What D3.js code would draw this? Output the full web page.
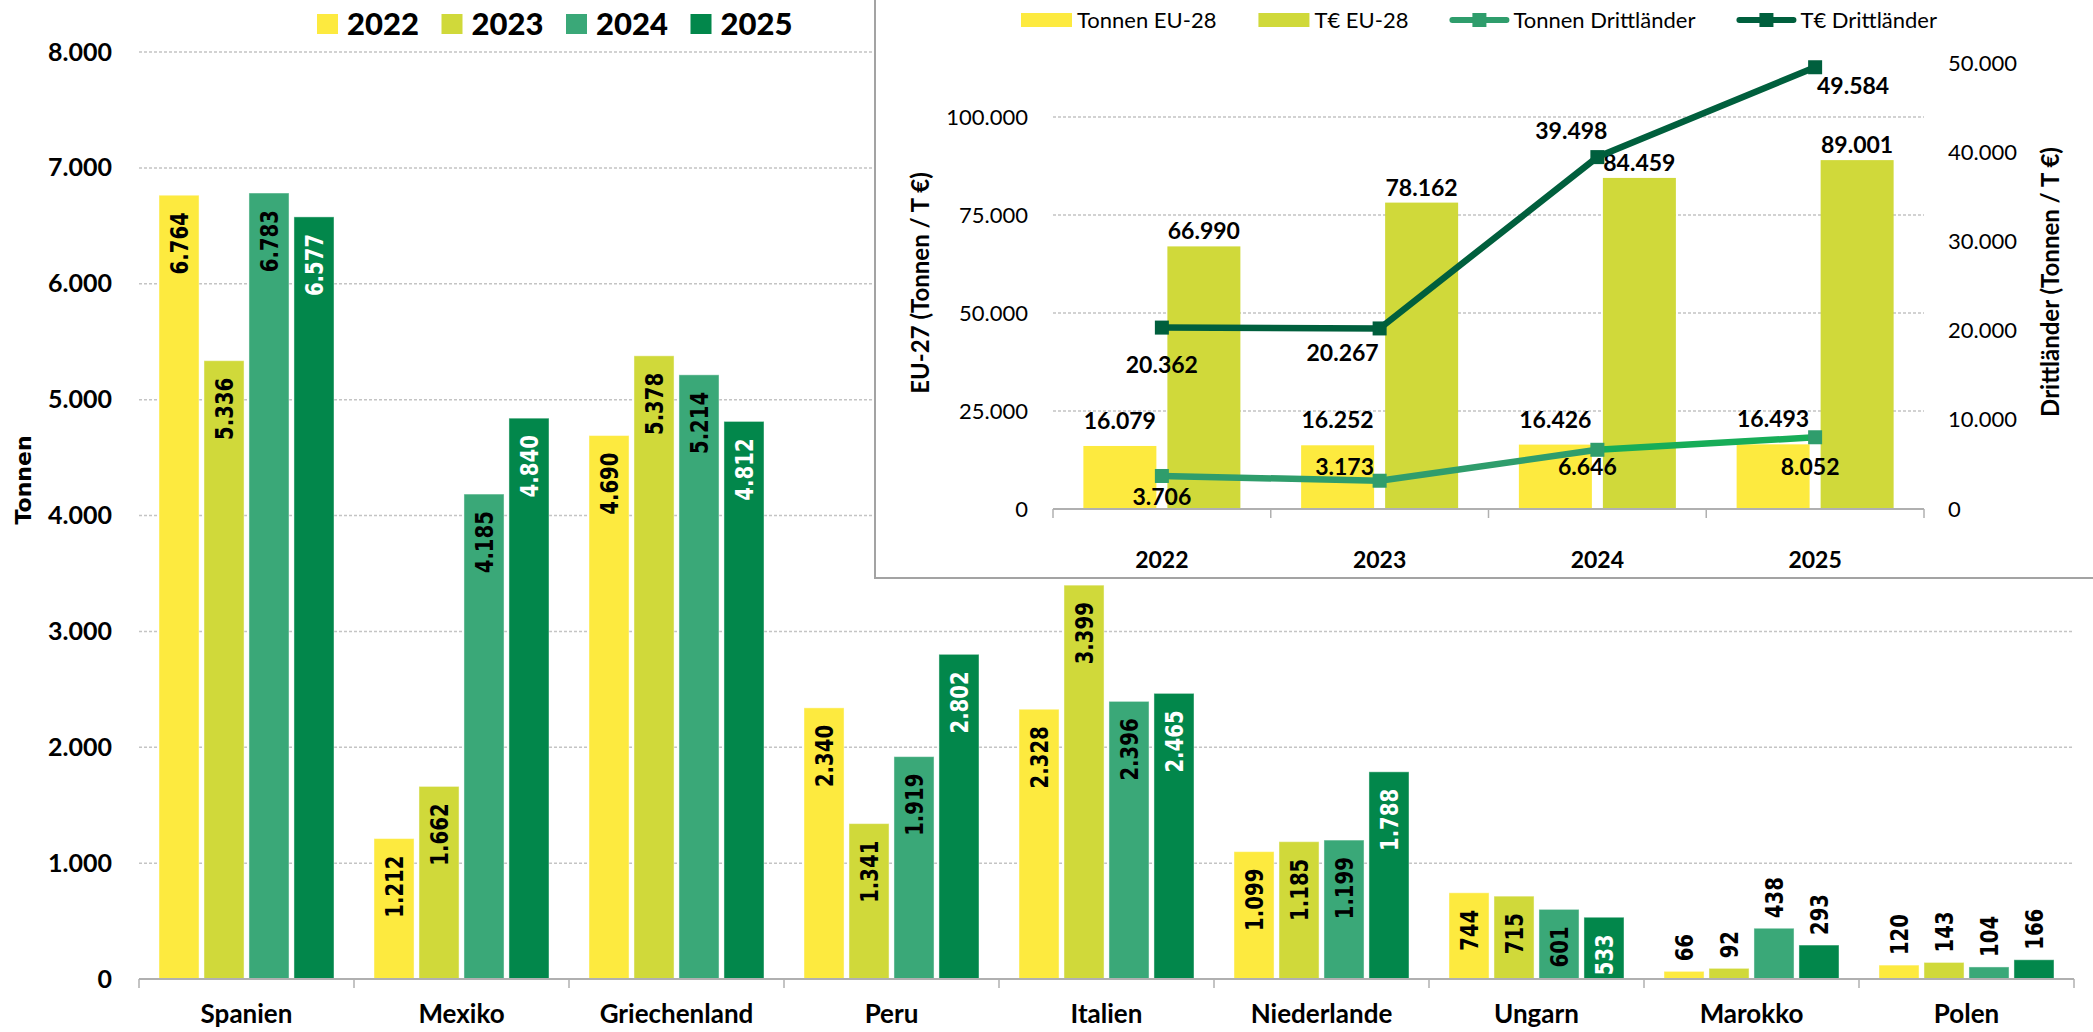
<!DOCTYPE html>
<html>
<head>
<meta charset="utf-8">
<script src="https://cdn.jsdelivr.net/npm/d3@7"></script>
<style>
body { margin: 0; background: #fff; }
text { font-family: Lato, "Open Sans", sans-serif; }
</style>
</head>
<body>
<svg id="chart" width="2093" height="1032"></svg>
<script>
// main chart data (Tonnen per country and year)
var countries = ["Spanien", "Mexiko", "Griechenland", "Peru", "Italien", "Niederlande", "Ungarn", "Marokko", "Polen"];
var years = ["2022", "2023", "2024", "2025"];
var values2022 = [6764, 1212, 4690, 2340, 2328, 1099, 744, 66, 120];
var values2023 = [5336, 1662, 5378, 1341, 3399, 1185, 715, 92, 143];
var values2024 = [6783, 4185, 5214, 1919, 2396, 1199, 601, 438, 104];
var values2025 = [6577, 4840, 4812, 2802, 2465, 1788, 533, 293, 166];
var mainTicks = [0, 1000, 2000, 3000, 4000, 5000, 6000, 7000, 8000];

// inset data
var insetYears = ["2022", "2023", "2024", "2025"];
var tonnenEU = [16079, 16252, 16426, 16493];
var euroEU = [66990, 78162, 84459, 89001];
var tonnenDritt = [3706, 3173, 6646, 8052];
var euroDritt = [20362, 20267, 39498, 49584];
var leftTicks = [0, 25000, 50000, 75000, 100000];
var rightTicks = [0, 10000, 20000, 30000, 40000, 50000];

var yearColors = ["#fdea3f", "#d0d93a", "#3aa878", "#02874b"];
var labelColors = ["#000", "#000", "#000", "#fff"];

var de = d3.formatLocale({decimal: ",", thousands: ".", grouping: [3], currency: ["", "€"]});
var fmt = de.format(",");

var svg = d3.select("#chart");

/* ---------------- main grouped bar chart ---------------- */
var plotLeft = 139, plotRight = 2074, plotBottom = 979, plotTop = 52;

var x0 = d3.scaleBand().domain(countries).range([plotLeft, plotRight]);
var x1 = d3.scaleBand().domain(years).range([20, x0.bandwidth() - 20]).paddingInner(0.11);
var y = d3.scaleLinear().domain([0, 8000]).range([plotBottom, plotTop]);

// gridlines
svg.append("g").selectAll("line")
    .data(mainTicks.filter(function (d) { return d > 0; }))
    .enter().append("line")
    .attr("x1", plotLeft).attr("x2", plotRight)
    .attr("y1", function (d) { return y(d); })
    .attr("y2", function (d) { return y(d); })
    .attr("stroke", "#c4c4c4")
    .attr("stroke-width", 1.5)
    .attr("stroke-dasharray", "3,2");

// y axis labels
var yAxis = svg.append("g")
    .attr("transform", "translate(" + plotLeft + ",0)")
    .call(d3.axisLeft(y).tickValues(mainTicks).tickFormat(fmt).tickSize(0).tickPadding(27));
yAxis.select(".domain").remove();
yAxis.selectAll("text")
    .style("font-family", "Lato, sans-serif")
    .style("font-weight", "bold")
    .style("font-size", "25px")
    .attr("fill", "#000");

svg.append("text")
    .attr("transform", "translate(31,480) rotate(-90)")
    .attr("text-anchor", "middle")
    .style("font-family", "'DejaVu Sans', sans-serif")
    .style("font-weight", "bold")
    .style("font-size", "22px")
    .text("Tonnen");

// bars
var series = [values2022, values2023, values2024, values2025];
var barData = [];
countries.forEach(function (c, i) {
    years.forEach(function (yr, j) {
        barData.push({country: c, year: yr, idx: j, value: series[j][i]});
    });
});

svg.append("g").selectAll("rect")
    .data(barData)
    .enter().append("rect")
    .attr("x", function (d) { return x0(d.country) + x1(d.year); })
    .attr("y", function (d) { return y(d.value); })
    .attr("width", x1.bandwidth())
    .attr("height", function (d) { return plotBottom - y(d.value); })
    .attr("fill", function (d) { return yearColors[d.idx]; })
    .attr("stroke", "#fff")
    .attr("stroke-opacity", 0.45)
    .attr("stroke-width", 1);

// value labels, rotated; inside the bar if it fits, else above
var labels = svg.append("g").selectAll("text")
    .data(barData)
    .enter().append("text")
    .style("font-family", "'DejaVu Sans', sans-serif")
    .style("font-weight", "bold")
    .style("font-size", "24px")
    .attr("dy", "0.36em")
    .text(function (d) { return fmt(d.value); });

labels.each(function (d) {
    var t = d3.select(this);
    var len = this.getComputedTextLength() * 0.82;
    var cx = x0(d.country) + x1(d.year) + x1.bandwidth() / 2;
    var top = y(d.value);
    var inside = (plotBottom - top) >= len + 18;
    if (inside) {
        t.attr("text-anchor", "end")
         .attr("fill", labelColors[d.idx])
         .attr("transform", "translate(" + cx + "," + (top + 17) + ") rotate(-90) scale(0.82,1)");
    } else {
        t.attr("text-anchor", "start")
         .attr("fill", "#000")
         .attr("transform", "translate(" + cx + "," + (top - 10) + ") rotate(-90) scale(0.82,1)");
    }
});

// x axis
svg.append("line")
    .attr("x1", plotLeft).attr("x2", plotRight)
    .attr("y1", plotBottom).attr("y2", plotBottom)
    .attr("stroke", "#b0b0b0").attr("stroke-width", 2);
svg.append("g").selectAll("line")
    .data(countries.map(function (c) { return x0(c); }).concat([plotRight]))
    .enter().append("line")
    .attr("x1", function (d) { return d; }).attr("x2", function (d) { return d; })
    .attr("y1", plotBottom).attr("y2", plotBottom + 9)
    .attr("stroke", "#b0b0b0").attr("stroke-width", 1.5);
svg.append("g").selectAll("text")
    .data(countries)
    .enter().append("text")
    .attr("x", function (d) { return x0(d) + x0.bandwidth() / 2; })
    .attr("y", 1023)
    .attr("text-anchor", "middle")
    .style("font-weight", "bold")
    .style("font-size", "26px")
    .text(function (d) { return d; });

// main legend
var legend = svg.append("g").selectAll("g")
    .data(years)
    .enter().append("g")
    .attr("transform", function (d, i) { return "translate(" + (317 + i * 124.5) + ",14)"; });
legend.append("rect")
    .attr("width", 21).attr("height", 20)
    .attr("fill", function (d, i) { return yearColors[i]; });
legend.append("text")
    .attr("x", 30).attr("y", 21)
    .style("font-weight", "900")
    .style("font-size", "31px")
    .text(function (d) { return d; });

/* ---------------- inset combo chart ---------------- */
var inset = svg.append("g");
inset.append("rect")
    .attr("x", 875).attr("y", -3)
    .attr("width", 1230).attr("height", 581)
    .attr("fill", "#fff")
    .attr("stroke", "#a3a3a3")
    .attr("stroke-width", 2);

var iLeft = 1053, iRight = 1924, iBottom = 509, iTop = 19;
var xi = d3.scaleBand().domain(insetYears).range([iLeft, iRight]);
var pair = 157;
var xb = d3.scaleBand().domain(["t", "e"])
    .range([(xi.bandwidth() - pair) / 2, (xi.bandwidth() + pair) / 2])
    .paddingInner(0.131);
var yl = d3.scaleLinear().domain([0, 125000]).range([iBottom, iTop]);
var yr = d3.scaleLinear().domain([0, 55000]).range([iBottom, iTop]);

inset.append("g").selectAll("line")
    .data(leftTicks.filter(function (d) { return d > 0; }))
    .enter().append("line")
    .attr("x1", iLeft).attr("x2", iRight)
    .attr("y1", function (d) { return yl(d); })
    .attr("y2", function (d) { return yl(d); })
    .attr("stroke", "#c4c4c4")
    .attr("stroke-width", 1.5)
    .attr("stroke-dasharray", "3,2");

var la = inset.append("g")
    .attr("transform", "translate(" + iLeft + ",0)")
    .call(d3.axisLeft(yl).tickValues(leftTicks).tickFormat(fmt).tickSize(0).tickPadding(25));
la.select(".domain").remove();
la.selectAll("text").style("font-family", "Lato, sans-serif").style("font-size", "22px").attr("fill", "#000");

var ra = inset.append("g")
    .attr("transform", "translate(" + iRight + ",0)")
    .call(d3.axisRight(yr).tickValues(rightTicks).tickFormat(fmt).tickSize(0).tickPadding(24));
ra.select(".domain").remove();
ra.selectAll("text").style("font-family", "Lato, sans-serif").style("font-size", "22px").attr("fill", "#000");

inset.append("text")
    .attr("transform", "translate(921,283) rotate(-90)")
    .attr("text-anchor", "middle").attr("dy", "0.35em")
    .style("font-weight", "bold").style("font-size", "24px")
    .text("EU-27 (Tonnen / T €)");
inset.append("text")
    .attr("transform", "translate(2051,282) rotate(-90)")
    .attr("text-anchor", "middle").attr("dy", "0.35em")
    .style("font-weight", "bold").style("font-size", "24px")
    .text("Drittländer (Tonnen / T €)");

// inset bars
var barSets = [
    {key: "t", values: tonnenEU, color: "#fdea3f", lift: 25},
    {key: "e", values: euroEU, color: "#d0d93a", lift: 15}
];
barSets.forEach(function (s) {
    var g = inset.append("g");
    g.selectAll("rect")
        .data(s.values)
        .enter().append("rect")
        .attr("x", function (d, i) { return xi(insetYears[i]) + xb(s.key); })
        .attr("y", function (d) { return yl(d); })
        .attr("width", xb.bandwidth())
        .attr("height", function (d) { return iBottom - yl(d); })
        .attr("fill", s.color);
    g.selectAll("text")
        .data(s.values)
        .enter().append("text")
        .attr("x", function (d, i) { return xi(insetYears[i]) + xb(s.key) + xb.bandwidth() / 2; })
        .attr("y", function (d) { return yl(d) - s.lift; })
        .attr("dy", "0.35em")
        .attr("text-anchor", "middle")
        .style("font-weight", "bold").style("font-size", "23px")
        .text(function (d) { return fmt(d); });
});

// inset x axis
inset.append("line")
    .attr("x1", iLeft).attr("x2", iRight)
    .attr("y1", iBottom).attr("y2", iBottom)
    .attr("stroke", "#b0b0b0").attr("stroke-width", 2);
inset.append("g").selectAll("line")
    .data(insetYears.map(function (d) { return xi(d); }).concat([iRight]))
    .enter().append("line")
    .attr("x1", function (d) { return d; }).attr("x2", function (d) { return d; })
    .attr("y1", iBottom).attr("y2", iBottom + 9)
    .attr("stroke", "#b0b0b0").attr("stroke-width", 1.5);
inset.append("g").selectAll("text")
    .data(insetYears)
    .enter().append("text")
    .attr("x", function (d) { return xi(d) + xi.bandwidth() / 2; })
    .attr("y", 560).attr("dy", "0.35em")
    .attr("text-anchor", "middle")
    .style("font-weight", "bold").style("font-size", "23px")
    .text(function (d) { return d; });

// inset lines (right axis); label nudges follow the hand-placed labels
var lineSets = [
    {values: tonnenDritt, color: "#2f9d6c", segColors: ["#2f9d6c", "#2f9d6c", "#17ad58"],
     nudge: [[0, 21], [-35, -14], [-10, 17], [-5, 30]]},
    {values: euroDritt, color: "#005f3d", segColors: ["#005f3d", "#005f3d", "#005f3d"],
     nudge: [[0, 37], [-37, 25], [-26, -26], [38, 19]]}
];
var cxi = function (i) { return xi(insetYears[i]) + xi.bandwidth() / 2; };
lineSets.forEach(function (s) {
    var g = inset.append("g");
    var pts = s.values.map(function (v, i) { return [cxi(i), yr(v)]; });
    g.selectAll("path")
        .data(d3.pairs(pts))
        .enter().append("path")
        .attr("d", function (d) { return d3.line()(d); })
        .attr("fill", "none")
        .attr("stroke", function (d, i) { return s.segColors[i]; })
        .attr("stroke-width", 6.5)
        .attr("stroke-linecap", "round");
    g.selectAll("rect")
        .data(pts)
        .enter().append("rect")
        .attr("x", function (d) { return d[0] - 7; })
        .attr("y", function (d) { return d[1] - 7; })
        .attr("width", 14).attr("height", 14)
        .attr("fill", s.color);
    g.selectAll("text")
        .data(s.values)
        .enter().append("text")
        .attr("x", function (d, i) { return cxi(i) + s.nudge[i][0]; })
        .attr("y", function (d, i) { return yr(d) + s.nudge[i][1]; })
        .attr("dy", "0.35em")
        .attr("text-anchor", "middle")
        .style("font-weight", "bold").style("font-size", "23px")
        .text(function (d) { return fmt(d); });
});

// inset legend
var legItems = [
    {name: "Tonnen EU-28", type: "bar", color: "#fdea3f"},
    {name: "T€ EU-28", type: "bar", color: "#d0d93a"},
    {name: "Tonnen Drittländer", type: "line", color: "#2f9d6c"},
    {name: "T€ Drittländer", type: "line", color: "#005f3d"}
];
var lx = 1021;
legItems.forEach(function (it) {
    var g = inset.append("g").attr("transform", "translate(" + lx + ",0)");
    var sw = it.type === "bar" ? 51 : 58;
    if (it.type === "bar") {
        g.append("rect").attr("x", 0).attr("y", 13).attr("width", 51).attr("height", 14).attr("fill", it.color);
    } else {
        g.append("line").attr("x1", 2).attr("x2", 56).attr("y1", 20).attr("y2", 20)
            .attr("stroke", it.color).attr("stroke-width", 6).attr("stroke-linecap", "round");
        g.append("rect").attr("x", 22).attr("y", 13).attr("width", 14).attr("height", 14).attr("fill", it.color);
    }
    var t = g.append("text")
        .attr("x", sw + 5).attr("y", 20).attr("dy", "0.35em")
        .style("font-size", "22px")
        .text(it.name);
    lx += sw + 5 + t.node().getComputedTextLength() + 42;
});
</script>
</body>
</html>
